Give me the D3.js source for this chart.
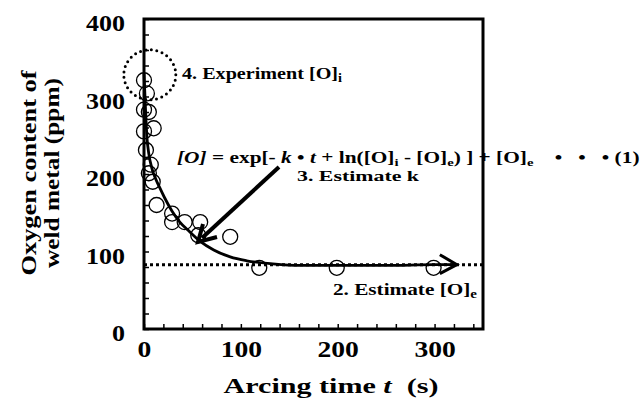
<!DOCTYPE html>
<html>
<head>
<meta charset="utf-8">
<script src="https://cdn.jsdelivr.net/npm/d3@7"></script>
<style>
  body { margin: 0; background: #fff; }
  svg { display: block; }
  text { font-family: "Liberation Serif", "Times New Roman", serif; font-weight: bold; fill: #000; }
</style>
</head>
<body>
<svg id="chart" width="643" height="399"></svg>
<script>
// measured points (arcing time s, oxygen ppm)
var timeVals = [0, 3, 0, 5, 10, 0, 2, 7, 5, 9, 13, 29, 29, 42, 58, 56, 89, 119, 199, 299];
var oxyVals  = [321, 304, 283, 280, 259, 255, 231, 212, 201, 190, 160, 149, 138, 138, 138, 121, 119, 79, 79, 79];

// fitted curve
var curveT = [0, 1.5, 3, 5, 8, 12, 16, 21, 29, 37, 45, 58, 72, 89, 106, 133, 161, 200, 250, 300, 323];
var curveO = [330, 285, 248, 226, 208, 194, 183, 170, 152, 138, 128, 113, 102, 93, 88, 84, 82, 82, 82, 83, 83];

var oEquil = 83;
var xTicks = [0, 100, 200, 300];
var yTicks = [0, 100, 200, 300, 400];

var svg = d3.select("#chart");

var x = d3.scaleLinear().domain([0, 350]).range([144, 483]);
var y = d3.scaleLinear().domain([0, 400]).range([329, 19]);

// the original lettering is wide, so stretch text sideways about its anchor
function stretch(sel, s) {
  sel.each(function() {
    var t = d3.select(this);
    var ax = +t.attr("x") || 0, ay = +t.attr("y") || 0;
    var base = t.attr("transform") || "";
    t.attr("transform", base + " translate(" + ax + "," + ay + ") scale(" + s + ",1) translate(" + (-ax) + "," + (-ay) + ")");
  });
}
function fitWidth(sel, w) {
  stretch(sel, w / sel.node().getBBox().width);
}

// ticks (inside, every 20)
var xAxis = d3.axisBottom(x)
  .tickValues(d3.range(0, 341, 20))
  .tickSize(-5)
  .tickPadding(12)
  .tickFormat(function(d) { return xTicks.indexOf(d) >= 0 ? d : ""; });

var gx = svg.append("g")
  .attr("transform", "translate(0," + y(0) + ")")
  .call(xAxis);
gx.select(".domain").remove();
gx.selectAll("line").attr("stroke-width", 1.5);
gx.selectAll("text").style("font-size", "23px").style("font-family", "Liberation Serif").style("font-weight", "bold");
stretch(gx.selectAll("text"), 1.2);

var yAxis = d3.axisLeft(y)
  .tickValues(d3.range(0, 401, 20))
  .tickSize(-5)
  .tickPadding(19)
  .tickFormat(function(d) { return yTicks.indexOf(d) >= 0 ? d : ""; });

var gy = svg.append("g")
  .attr("transform", "translate(" + x(0) + ",0)")
  .call(yAxis);
gy.select(".domain").remove();
gy.selectAll("line").attr("stroke-width", 1.5);
gy.selectAll("text").attr("dy", "0.5em").style("font-size", "23px").style("font-family", "Liberation Serif").style("font-weight", "bold");
stretch(gy.selectAll("text"), 1.13);

// frame
svg.append("rect")
  .attr("x", x(0)).attr("y", y(400))
  .attr("width", x(350) - x(0)).attr("height", y(0) - y(400))
  .attr("fill", "none").attr("stroke", "#000").attr("stroke-width", 3);

// axis titles
var xt = svg.append("text")
  .attr("x", 331).attr("y", 393)
  .attr("text-anchor", "middle")
  .style("font-size", "22px");
xt.append("tspan").text("Arcing time ");
xt.append("tspan").style("font-style", "italic").text("t");
xt.append("tspan").text("\u00a0 (s)");
fitWidth(xt, 215);

var yt1 = svg.append("text")
  .attr("transform", "translate(36,173)rotate(-90)")
  .attr("text-anchor", "middle")
  .style("font-size", "22px")
  .text("Oxygen content of");
fitWidth(yt1, 206);
var yt2 = svg.append("text")
  .attr("transform", "translate(59,173)rotate(-90)")
  .attr("text-anchor", "middle")
  .style("font-size", "22px")
  .text("weld metal (ppm)");
fitWidth(yt2, 190);

// equilibrium dotted line
svg.append("line")
  .attr("x1", x(0)).attr("x2", x(350))
  .attr("y1", y(oEquil)).attr("y2", y(oEquil))
  .attr("stroke", "#000").attr("stroke-width", 3)
  .attr("stroke-dasharray", "3,3");

// data circles
var pts = timeVals.map(function(t, i) { return [t, oxyVals[i]]; });
svg.selectAll("circle.pt")
  .data(pts)
  .enter()
  .append("circle")
    .attr("class", "pt")
    .attr("cx", function(d) { return x(d[0]); })
    .attr("cy", function(d) { return y(d[1]); })
    .attr("r", 7.5)
    .attr("fill", "none")
    .attr("stroke", "#000")
    .attr("stroke-width", 1.3);

// fitted curve
var line = d3.line()
  .x(function(d) { return x(d[0]); })
  .y(function(d) { return y(d[1]); })
  .curve(d3.curveMonotoneX);
var cpts = curveT.map(function(t, i) { return [t, curveO[i]]; });
svg.append("path")
  .attr("d", line(cpts))
  .attr("fill", "none")
  .attr("stroke", "#000")
  .attr("stroke-width", 2.8);

// arrow head at end of curve
var tip = cpts[cpts.length - 1];
svg.append("path")
  .attr("d", "M" + (x(tip[0]) - 17) + "," + (y(tip[1]) - 10) +
             "L" + x(tip[0]) + "," + y(tip[1]) +
             "L" + (x(tip[0]) - 17) + "," + (y(tip[1]) + 9))
  .attr("fill", "none").attr("stroke", "#000").attr("stroke-width", 3);

// dotted ellipse round the initial value
svg.append("ellipse")
  .attr("cx", x(6)).attr("cy", y(328))
  .attr("rx", 26).attr("ry", 25)
  .attr("fill", "none").attr("stroke", "#000")
  .attr("stroke-width", 3).attr("stroke-linecap", "round")
  .attr("stroke-dasharray", "0,5.5");

// annotation arrow for k
svg.append("line")
  .attr("x1", 279).attr("y1", 167).attr("x2", 202).attr("y2", 238)
  .attr("stroke", "#000").attr("stroke-width", 4);
svg.append("path")
  .attr("d", "M203,224 L198,242 L217,237")
  .attr("fill", "none").attr("stroke", "#000").attr("stroke-width", 4)
  .attr("stroke-linejoin", "miter");

// annotation texts
var nb = "\u00a0";
var t4 = svg.append("text").attr("x", 182).attr("y", 79).style("font-size", "17px");
t4.append("tspan").text("4. Experiment [O]");
t4.append("tspan").attr("dy", 3).style("font-size", "12px").text("i");
fitWidth(t4, 161);

var eq = svg.append("text").attr("x", 177).attr("y", 163).style("font-size", "16px");
eq.append("tspan").style("font-style", "italic").text("[O]");
eq.append("tspan").text(" = exp[- ");
eq.append("tspan").style("font-style", "italic").text("k");
eq.append("tspan").text(" \u2022 ");
eq.append("tspan").style("font-style", "italic").text("t");
eq.append("tspan").text(" + ln([O]");
eq.append("tspan").attr("dy", 3).style("font-size", "11px").text("i");
eq.append("tspan").attr("dy", -3).text(" - [O]");
eq.append("tspan").attr("dy", 3).style("font-size", "11px").text("e");
eq.append("tspan").attr("dy", -3).text(") ] + [O]");
eq.append("tspan").attr("dy", 3).style("font-size", "11px").text("e");
eq.append("tspan").attr("dy", -3).text(nb + nb + nb + nb + "\u2022" + nb + nb + nb + "\u2022" + nb + nb + nb + "\u2022" + nb + "(1)");
fitWidth(eq, 463);

var t3 = svg.append("text").attr("x", 297).attr("y", 181).style("font-size", "15px");
t3.append("tspan").text("3. Estimate k");
fitWidth(t3, 123);

var t2 = svg.append("text").attr("x", 477).attr("y", 295).attr("text-anchor", "end").style("font-size", "17px");
t2.append("tspan").text("2. Estimate [O]");
t2.append("tspan").attr("dy", 3).style("font-size", "12px").text("e");
fitWidth(t2, 145);
</script>
</body>
</html>
